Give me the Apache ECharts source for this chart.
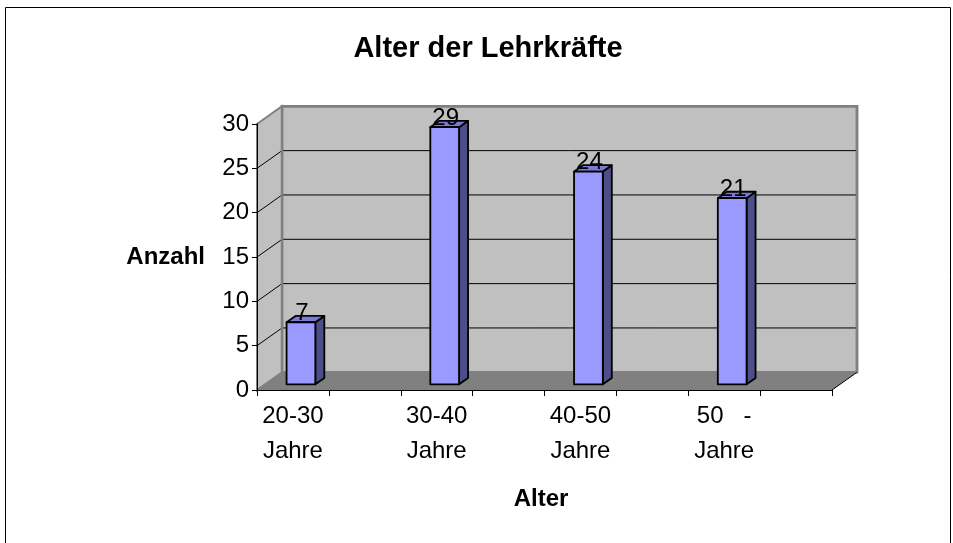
<!DOCTYPE html>
<html>
<head>
<meta charset="utf-8">
<script src="https://cdn.jsdelivr.net/npm/echarts@6/dist/echarts.min.js"></script>
<style>
  html, body { margin: 0; padding: 0; background: #ffffff; }
  #chart { width: 953px; height: 543px; }
</style>
</head>
<body>
<div id="chart"></div>
<script>
// Age groups of the teaching staff; every other slot is an empty spacer category
const categories = ['20-30\nJahre', '', '30-40\nJahre', '', '40-50\nJahre', '', '50   -\nJahre', ''];
const barSlots = [0, 2, 4, 6];
const values = [7, 29, 24, 21];
const yTicks = [0, 5, 10, 15, 20, 25, 30];

// Pseudo-3D look: offset of the back wall relative to the front plane
const DEPTH_X = 25;
const DEPTH_Y = -17.7;
const BAR_FRONT = 0.32;   // bar front face position within the depth
const BAR_DEPTH = 0.36;   // bar thickness as part of the depth
const BAR_WIDTH = 0.4;    // bar width as part of a slot
const FONT = '"Liberation Sans", Arial, sans-serif';

function renderWalls(params, api) {
  const cs = params.coordSys;
  const x0 = cs.x;
  const x1 = cs.x + cs.width;
  const yAt = v => api.coord([0, v])[1];
  const y0 = yAt(yTicks[0]);
  const yTop = yAt(yTicks[yTicks.length - 1]);
  const children = [];

  // back wall
  children.push({
    type: 'polygon',
    shape: { points: [[x0 + DEPTH_X, yTop + DEPTH_Y], [x1 + DEPTH_X, yTop + DEPTH_Y], [x1 + DEPTH_X, y0 + DEPTH_Y], [x0 + DEPTH_X, y0 + DEPTH_Y]] },
    style: { fill: '#c0c0c0', stroke: '#808080', lineWidth: 2.5 }
  });
  // left side wall
  children.push({
    type: 'polygon',
    shape: { points: [[x0, yTop], [x0 + DEPTH_X, yTop + DEPTH_Y], [x0 + DEPTH_X, y0 + DEPTH_Y], [x0, y0]] },
    style: { fill: '#c0c0c0', stroke: '#808080', lineWidth: 2 }
  });
  // gridlines along the side wall and across the back wall
  yTicks.slice(1, -1).forEach(v => {
    const y = yAt(v);
    children.push({
      type: 'polyline',
      shape: { points: [[x0, y], [x0 + DEPTH_X, y + DEPTH_Y], [x1 + DEPTH_X, y + DEPTH_Y]] },
      style: { fill: null, stroke: '#000000', lineWidth: 1 }
    });
  });
  // floor
  children.push({
    type: 'polygon',
    shape: { points: [[x0, y0], [x1, y0], [x1 + DEPTH_X, y0 + DEPTH_Y], [x0 + DEPTH_X, y0 + DEPTH_Y]] },
    style: { fill: '#808080' }
  });
  children.push({
    type: 'line',
    shape: { x1: x1, y1: y0, x2: x1 + DEPTH_X, y2: y0 + DEPTH_Y },
    style: { stroke: '#000000', lineWidth: 1 }
  });
  // back wall edges drawn again above the floor
  children.push({
    type: 'polyline',
    shape: { points: [[x0 + DEPTH_X, y0 + DEPTH_Y], [x0 + DEPTH_X, yTop + DEPTH_Y], [x1 + DEPTH_X, yTop + DEPTH_Y], [x1 + DEPTH_X, y0 + DEPTH_Y]] },
    style: { fill: null, stroke: '#808080', lineWidth: 2.5 }
  });
  return { type: 'group', children: children };
}

function renderBar(params, api) {
  const slot = api.value(0);
  const v = api.value(1);
  const base = api.coord([slot, 0]);
  const top = api.coord([slot, v]);
  const w = api.size([1, 0])[0] * BAR_WIDTH;
  const fx = base[0] + BAR_FRONT * DEPTH_X;
  const xl = fx - w / 2;
  const xr = fx + w / 2;
  const yb = base[1] + BAR_FRONT * DEPTH_Y;
  const yt = top[1] + BAR_FRONT * DEPTH_Y;
  const dx = BAR_DEPTH * DEPTH_X;
  const dy = BAR_DEPTH * DEPTH_Y;
  const edge = { stroke: '#000000', lineWidth: 1.8, lineJoin: 'round' };
  return {
    type: 'group',
    children: [
      { type: 'polygon', shape: { points: [[xr, yt], [xr + dx, yt + dy], [xr + dx, yb + dy], [xr, yb]] },
        style: Object.assign({ fill: '#4d4d88' }, edge) },
      { type: 'polygon', shape: { points: [[xl, yt], [xr, yt], [xr + dx, yt + dy], [xl + dx, yt + dy]] },
        style: Object.assign({ fill: '#7b7bd6' }, edge) },
      { type: 'rect', shape: { x: xl, y: yt, width: w, height: yb - yt },
        style: Object.assign({ fill: '#9999ff' }, edge) },
      { type: 'text', z2: 10,
        style: { text: String(v), x: fx + 1, y: yt + 3, align: 'center', verticalAlign: 'bottom',
                 font: '24px ' + FONT, fill: '#000000' } }
    ]
  };
}

const chart = echarts.init(document.getElementById('chart'), null, { renderer: 'canvas' });
chart.setOption({
  animation: false,
  backgroundColor: '#ffffff',
  title: {
    text: 'Alter der Lehrkräfte',
    left: 483,
    top: 29,
    textAlign: 'center',
    textStyle: { fontFamily: FONT, fontSize: 29, fontWeight: 'bold', color: '#000000' }
  },
  graphic: [{
    type: 'rect',
    shape: { x: 5.5, y: 7.5, width: 945, height: 600 },
    style: { fill: null, stroke: '#000000', lineWidth: 1 },
    silent: true
  }],
  grid: { left: 257, right: 121, top: 124, bottom: 153, containLabel: false },
  xAxis: {
    type: 'category',
    data: categories,
    boundaryGap: true,
    name: 'Alter',
    nameLocation: 'middle',
    nameGap: 97,
    nameTextStyle: { fontFamily: FONT, fontSize: 24, fontWeight: 'bold', color: '#000000', padding: [0, 7, 0, 0] },
    axisLine: { show: true, lineStyle: { color: '#000000', width: 1 } },
    axisTick: { show: true, interval: 0, length: 6, lineStyle: { color: '#000000' } },
    axisLabel: { interval: 0, fontFamily: FONT, fontSize: 24, color: '#000000', lineHeight: 35, margin: 9 },
    splitLine: { show: false }
  },
  yAxis: {
    type: 'value',
    min: 0,
    max: 30,
    interval: 5,
    name: 'Anzahl',
    nameLocation: 'middle',
    nameRotate: 0,
    nameGap: 52,
    nameTextStyle: { fontFamily: FONT, fontSize: 24, fontWeight: 'bold', color: '#000000' },
    axisLine: { show: true, lineStyle: { color: '#000000', width: 1 } },
    axisTick: { show: true, length: 5, lineStyle: { color: '#000000' } },
    axisLabel: { fontFamily: FONT, fontSize: 24, color: '#000000', margin: 8 },
    splitLine: { show: false }
  },
  series: [
    {
      type: 'custom',
      name: 'walls',
      z: -1,
      silent: true,
      renderItem: renderWalls,
      data: [[0, 0]]
    },
    {
      type: 'custom',
      name: 'Anzahl',
      z: 3,
      renderItem: renderBar,
      encode: { x: 0, y: 1 },
      data: values.map((v, i) => [barSlots[i], v])
    }
  ]
});
</script>
</body>
</html>
